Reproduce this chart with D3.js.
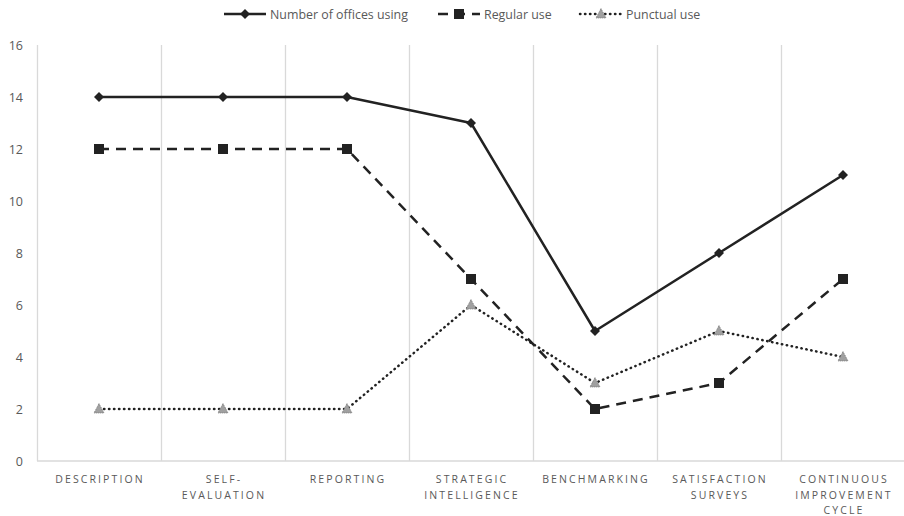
<!DOCTYPE html>
<html>
<head>
<meta charset="utf-8">
<script src="https://cdn.jsdelivr.net/npm/d3@7"></script>
<style>
  body { margin: 0; background: #fff; }
  svg { display: block; }
</style>
</head>
<body>
<div class="vis-linechart"></div>
<script>
const categories = ['Description', 'Self-evaluation', 'Reporting', 'Strategic intelligence',
  'Benchmarking', 'Satisfaction surveys', 'Continuous improvement cycle'];
const tickLines = [
  ['DESCRIPTION'],
  ['SELF-', 'EVALUATION'],
  ['REPORTING'],
  ['STRATEGIC', 'INTELLIGENCE'],
  ['BENCHMARKING'],
  ['SATISFACTION', 'SURVEYS'],
  ['CONTINUOUS', 'IMPROVEMENT', 'CYCLE']
];
const officesUsing = [14, 14, 14, 13, 5, 8, 11];
const regularUse = [12, 12, 12, 7, 2, 3, 7];
const punctualUse = [2, 2, 2, 6, 3, 5, 4];
const yTicks = [0, 2, 4, 6, 8, 10, 12, 14, 16];

const series = [
  { name: 'Number of offices using', values: officesUsing, dash: null, marker: 'diamond' },
  { name: 'Regular use', values: regularUse, dash: '10,7', marker: 'square' },
  { name: 'Punctual use', values: punctualUse, dash: '0.4,4.6', marker: 'triangle' }
];

const W = 904;
const H = 516;
const margin = { top: 45, right: 0, bottom: 55, left: 37 };
const width = 868;
const height = H - margin.top - margin.bottom;
const lineColor = '#222';
const textColor = '#595959';

const svg = d3.select('.vis-linechart')
  .append('svg')
  .attr('width', W)
  .attr('height', H);

const g = svg.append('g')
  .attr('transform', `translate(${margin.left},${margin.top})`);

const x = d3.scaleBand()
  .domain(categories)
  .range([0, width]);
const y = d3.scaleLinear()
  .domain([0, 16])
  .range([height, 0]);

// vertical gridlines between categories
g.append('g')
  .selectAll('line')
  .data(categories)
  .join('line')
  .attr('x1', (d) => x(d) + 0.5)
  .attr('x2', (d) => x(d) + 0.5)
  .attr('y1', 0)
  .attr('y2', height)
  .attr('stroke', '#d9d9d9')
  .attr('stroke-width', 1.3);

// baseline
g.append('line')
  .attr('x1', 0)
  .attr('x2', width)
  .attr('y1', y(0))
  .attr('y2', y(0))
  .attr('stroke', '#d9d9d9')
  .attr('stroke-width', 1.3);

// y axis labels
const yAxis = g.append('g')
  .call(d3.axisLeft(y).tickValues(yTicks).tickSize(0).tickPadding(14));
yAxis.select('.domain').remove();
yAxis.selectAll('text')
  .attr('fill', textColor)
  .attr('font-family', 'Open Sans, sans-serif')
  .attr('font-size', 12.5);

// x axis labels
const xl = g.append('g')
  .selectAll('text')
  .data(categories)
  .join('text')
  .attr('x', (d) => x(d) + x.bandwidth() / 2)
  .attr('y', height + 22)
  .attr('text-anchor', 'middle')
  .attr('fill', textColor)
  .attr('font-family', 'Open Sans, sans-serif')
  .attr('font-size', 10.5)
  .attr('letter-spacing', 2.1);
xl.each(function (d, i) {
  d3.select(this).selectAll('tspan')
    .data(tickLines[i])
    .join('tspan')
    .attr('x', x(d) + x.bandwidth() / 2 + 1)
    .attr('dy', (t, j) => (j === 0 ? 0 : 15.5))
    .text((t) => t);
});

const cx = (i) => x(categories[i]) + x.bandwidth() / 2;

const drawMarker = (sel, type, px, py) => {
  if (type === 'diamond') {
    sel.append('path')
      .attr('d', `M${px},${py - 5}L${px + 5},${py}L${px},${py + 5}L${px - 5},${py}Z`)
      .attr('fill', lineColor);
  } else if (type === 'square') {
    sel.append('rect')
      .attr('x', px - 5)
      .attr('y', py - 5)
      .attr('width', 10)
      .attr('height', 10)
      .attr('fill', lineColor);
  } else {
    sel.append('path')
      .attr('d', `M${px},${py - 5.5}L${px + 5},${py + 4}L${px - 5},${py + 4}Z`)
      .attr('fill', '#a0a0a0')
      .attr('stroke', '#6f6f6f')
      .attr('stroke-width', 0.8)
      .attr('stroke-dasharray', '1,1');
  }
};

// lines and markers
series.forEach((s) => {
  g.append('path')
    .datum(s.values)
    .attr('fill', 'none')
    .attr('stroke', lineColor)
    .attr('stroke-width', 2.5)
    .attr('stroke-dasharray', s.dash)
    .attr('stroke-linecap', s.marker === 'triangle' ? 'round' : 'butt')
    .attr('stroke-linejoin', 'round')
    .attr('d', d3.line()
      .x((d, i) => cx(i))
      .y((d) => y(d)));
  const mg = g.append('g');
  s.values.forEach((v, i) => drawMarker(mg, s.marker, cx(i), y(v)));
});

// legend
const legendX = [224, 438, 580];
const legend = svg.append('g');
series.forEach((s, i) => {
  const lx = legendX[i];
  const ly = 14;
  const item = legend.append('g');
  item.append('line')
    .attr('x1', lx)
    .attr('x2', lx + 42)
    .attr('y1', ly)
    .attr('y2', ly)
    .attr('stroke', lineColor)
    .attr('stroke-width', 2.5)
    .attr('stroke-dasharray', s.dash)
    .attr('stroke-linecap', s.marker === 'triangle' ? 'round' : 'butt');
  drawMarker(item, s.marker, lx + 21, ly);
  item.append('text')
    .attr('x', lx + 46)
    .attr('y', ly + 4.5)
    .attr('fill', textColor)
    .attr('font-family', 'Open Sans, sans-serif')
    .attr('font-size', 12.4)
    .text(s.name);
});
</script>
</body>
</html>
